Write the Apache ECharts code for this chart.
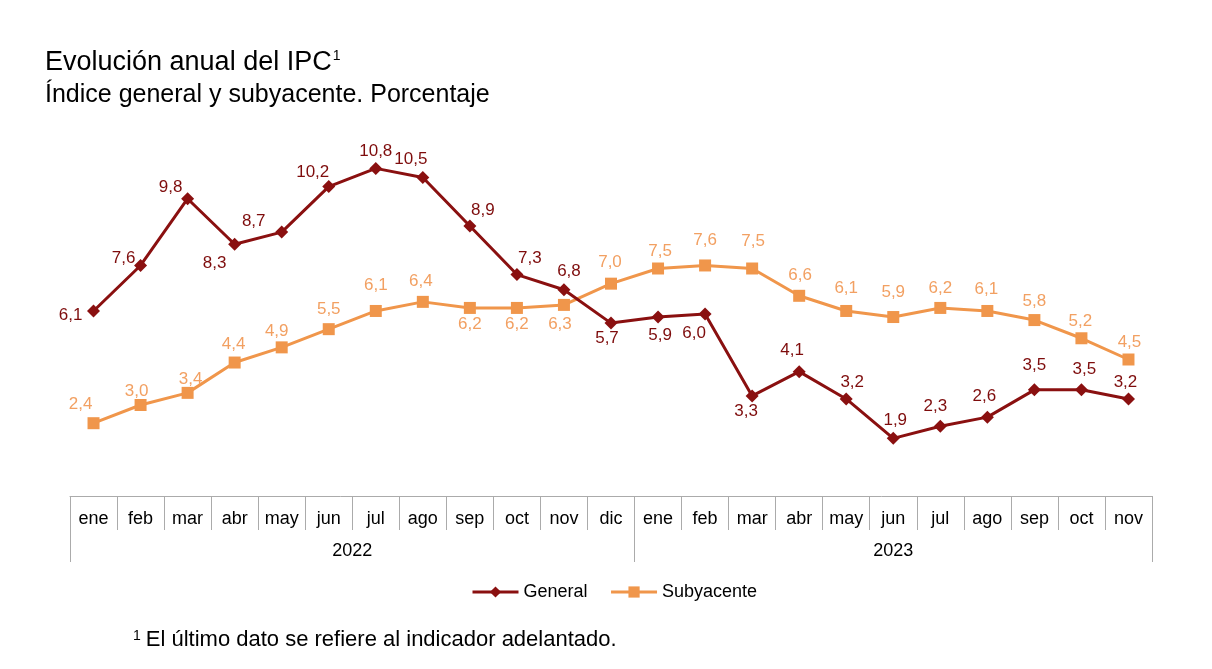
<!DOCTYPE html>
<html>
<head>
<meta charset="utf-8">
<script src="https://cdn.jsdelivr.net/npm/echarts@6/dist/echarts.min.js"></script>
<style>
html,body{margin:0;padding:0;background:#fff;}
#chart{width:1212px;height:669px;}
</style>
</head>
<body>
<div id="chart"></div>
<script>
// ---- data ----
const months = ['ene','feb','mar','abr','may','jun','jul','ago','sep','oct','nov','dic',
                'ene','feb','mar','abr','may','jun','jul','ago','sep','oct','nov'];
const years = ['2022','2023'];
const monthsPerYear = [12, 11];
const general =    [6.1,7.6,9.8,8.3,8.7,10.2,10.8,10.5,8.9,7.3,6.8,5.7,5.9,6.0,3.3,4.1,3.2,1.9,2.3,2.6,3.5,3.5,3.2];
const subyacente = [2.4,3.0,3.4,4.4,4.9,5.5,6.1,6.4,6.2,6.2,6.3,7.0,7.5,7.6,7.5,6.6,6.1,5.9,6.2,6.1,5.8,5.2,4.5];

// ---- label placement (style) ----
const genOff = [[-23,4],[-17,-7],[-17,-11],[-20,19],[-28,-11],[-16,-14],[0,-17],[-12,-18],[13,-16],[13,-16],[5,-18],[-4,15],
                [2,18],[-11,19],[-6,15],[-7,-21],[6,-17],[2,-18],[-5,-20],[-3,-21],[0,-25],[3,-21],[-3,-17]];
const subOff = [[-13,-19],[-4,-14],[3,-14],[-1,-18],[-5,-16],[0,-20],[0,-26],[-2,-21],[0,16],[0,16],[-4,19],[-1,-21],
                [2,-17],[0,-25],[1,-27],[1,-20],[0,-23],[0,-25],[0,-20],[-1,-22],[0,-19],[-1,-17],[1,-17]];

const FONT = 'Liberation Sans';
const C_GEN = '#8A1010', C_GEN_L = '#7E0C0C';
const C_SUB = '#F0964B', C_SUB_L = '#F2A062';
const fmt = v => String(v.toFixed(1)).replace('.', ',');

// year boundaries and centres on a 0..n value scale
const yearTicks = [0]; const yearCentres = [];
monthsPerYear.forEach((m, i) => { const s = yearTicks[yearTicks.length-1]; yearCentres.push(s + m/2); yearTicks.push(s + m); });

const chart = echarts.init(document.getElementById('chart'));
chart.setOption({
  backgroundColor: '#fff',
  animation: false,
  textStyle: {fontFamily: FONT},
  title: [
    {text: '{m|Evolución anual del IPC}{s|1}', left: 40, top: 44,
     textStyle: {rich: {m: {fontSize: 27, fontWeight: 'normal', fontFamily: FONT, color: '#000'}, s: {fontSize: 14, fontWeight: 'normal', fontFamily: FONT, color: '#000', verticalAlign: 'top', padding:[0,0,12,1]}}}},
    {text: 'Índice general y subyacente. Porcentaje', left: 40, top: 78,
     textStyle: {fontSize: 25, fontWeight: 'normal', fontFamily: FONT, color: '#000'}},
    {text: '{s|1} {m|El último dato se refiere al indicador adelantado.}', left: 128, top: 624,
     textStyle: {rich: {m: {fontSize: 22, fontWeight: 'normal', fontFamily: FONT, color: '#000'}, s: {fontSize: 14, fontWeight: 'normal', fontFamily: FONT, color: '#000', verticalAlign: 'top', padding:[0,0,8,0]}}}}
  ],
  legend: {
    data: [
      {name: 'General', lineStyle: {width: 3}},
      {name: 'Subyacente', lineStyle: {width: 3}}
    ],
    left: 466, top: 578, itemWidth: 46, itemHeight: 14, itemGap: 22,
    textStyle: {fontSize: 18, fontFamily: FONT, color: '#000'}
  },
  grid: {left: 70, right: 60, top: 132, bottom: 173},
  xAxis: [
    {type: 'category', data: months, boundaryGap: true, position: 'bottom',
     axisLine: {show: true, lineStyle: {color: '#ababab', width: 1}},
     axisTick: {show: true, interval: 0, length: 34, lineStyle: {color: '#ababab', width: 1}},
     axisLabel: {interval: 0, margin: 14, fontSize: 18, fontFamily: FONT, color: '#000'}},
    {type: 'value', min: 0, max: months.length, position: 'bottom',
     axisLine: {show: false}, splitLine: {show: false},
     axisTick: {show: true, customValues: yearTicks, length: 66, lineStyle: {color: '#ababab', width: 1}},
     axisLabel: {customValues: yearCentres, margin: 46, fontSize: 18, fontFamily: FONT, color: '#000',
                 formatter: v => years[yearCentres.indexOf(v)] || ''}}
  ],
  yAxis: {type: 'value', min: 0, max: 12, show: false, splitLine: {show: false}},
  series: [
    {name: 'General', type: 'line', z: 4, xAxisIndex: 0,
     data: general.map((v, i) => ({value: v, label: {offset: genOff[i]}})),
     symbol: 'diamond', symbolSize: 13,
     lineStyle: {color: C_GEN, width: 3}, itemStyle: {color: C_GEN},
     label: {show: true, position: 'inside', formatter: p => fmt(p.value), fontSize: 17, fontFamily: FONT, color: C_GEN_L}},
    {name: 'Subyacente', type: 'line', z: 3, xAxisIndex: 0,
     data: subyacente.map((v, i) => ({value: v, label: {offset: subOff[i]}})),
     symbol: 'rect', symbolSize: 12,
     lineStyle: {color: C_SUB, width: 3}, itemStyle: {color: C_SUB},
     label: {show: true, position: 'inside', formatter: p => fmt(p.value), fontSize: 17, fontFamily: FONT, color: C_SUB_L}}
  ]
});
</script>
</body>
</html>
